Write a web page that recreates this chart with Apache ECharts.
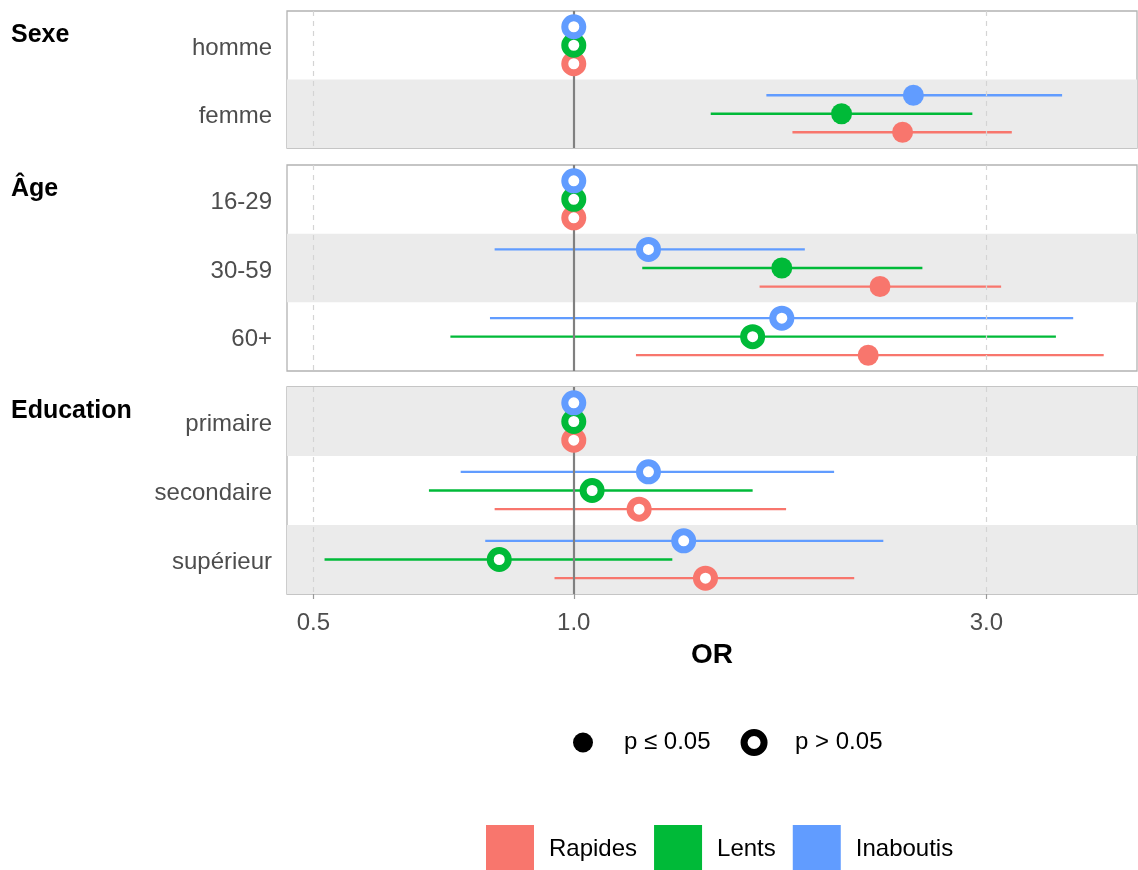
<!DOCTYPE html>
<html>
<head>
<meta charset="utf-8">
<script src="https://cdn.jsdelivr.net/npm/echarts@6/dist/echarts.min.js"></script>
<style>
html,body{margin:0;padding:0;background:#fff;}
#chart{width:1138px;height:870px;}
</style>
</head>
<body>
<div id="chart"></div>
<script>
// ---- data ----
const facets = ['Sexe', 'Âge', 'Education'];
const rowLabels = ['homme', 'femme', '16-29', '30-59', '60+', 'primaire', 'secondaire', 'supérieur'];
const rowFacet  = ['Sexe', 'Sexe', 'Âge', 'Âge', 'Âge', 'Education', 'Education', 'Education'];
const groups = ['Rapides', 'Lents', 'Inaboutis'];

const rapidesOR   = [1, 2.40, 1, 2.26, 2.19, 1, 1.19, 1.42];
const rapidesLow  = [null, 1.79, null, 1.64, 1.18, null, 0.81, 0.95];
const rapidesHigh = [null, 3.21, null, 3.12, 4.10, null, 1.76, 2.11];
const rapidesSig  = [0, 1, 0, 1, 1, 0, 0, 0];

const lentsOR   = [1, 2.04, 1, 1.74, 1.61, 1, 1.05, 0.82];
const lentsLow  = [null, 1.44, null, 1.20, 0.72, null, 0.68, 0.515];
const lentsHigh = [null, 2.89, null, 2.53, 3.61, null, 1.61, 1.30];
const lentsSig  = [0, 1, 0, 1, 0, 0, 0, 0];

const inaboutisOR   = [1, 2.47, 1, 1.22, 1.74, 1, 1.22, 1.34];
const inaboutisLow  = [null, 1.67, null, 0.81, 0.80, null, 0.74, 0.79];
const inaboutisHigh = [null, 3.67, null, 1.85, 3.78, null, 2.00, 2.28];
const inaboutisSig  = [0, 1, 0, 0, 0, 0, 0, 0];

const xTicks = [0.5, 1, 3];
const sigLabels = ['p ≤ 0.05', 'p > 0.05'];

// ---- style / layout ----
const colors = ['#F8766D', '#00BA38', '#619CFF'];
const dodge = [1, 0, -1];
const FONT = '"Liberation Sans", Arial, Helvetica, sans-serif';
const panelTop = [11, 165, 387];
const panelHeight = [137, 206, 207];
const panelLeft = 287, panelWidth = 850;
const xMin = 0.466, xMax = 4.48;

const groupData = [
  {or: rapidesOR, low: rapidesLow, high: rapidesHigh, sig: rapidesSig},
  {or: lentsOR, low: lentsLow, high: lentsHigh, sig: lentsSig},
  {or: inaboutisOR, low: inaboutisLow, high: inaboutisHigh, sig: inaboutisSig}
];

const grids = [], xAxes = [], yAxes = [], series = [], graphics = [];
let rowCounter = 0;

facets.forEach((f, fi) => {
  const idxs = rowFacet.map((v, i) => v === f ? i : -1).filter(i => i >= 0);
  const cats = idxs.map(i => rowLabels[i]);
  grids.push({left: panelLeft, top: panelTop[fi], width: panelWidth, height: panelHeight[fi],
    show: true, borderColor: '#B3B3B3', borderWidth: 1.3, backgroundColor: 'transparent', containLabel: false});
  const last = fi === facets.length - 1;
  xAxes.push({
    type: 'log', logBase: 10, gridIndex: fi, min: xMin, max: xMax,
    axisLine: {show: false},
    axisTick: {show: last, customValues: xTicks, length: 5, lineStyle: {color: '#999', width: 1.2}},
    axisLabel: {show: last, customValues: xTicks, formatter: v => Number(v).toFixed(1),
      color: '#4D4D4D', fontSize: 24, fontFamily: FONT, margin: 17},
    splitLine: {show: false},
    name: last ? 'OR' : '', nameLocation: 'middle', nameGap: 47,
    nameTextStyle: {fontSize: 28, fontWeight: 'bold', color: '#000', fontFamily: FONT}
  });
  const firstRowShaded = (rowCounter % 2) === 1;
  yAxes.push({
    type: 'category', gridIndex: fi, data: cats, inverse: true,
    axisLine: {show: false}, axisTick: {show: false},
    axisLabel: {color: '#4D4D4D', fontSize: 24, fontFamily: FONT, margin: 15,
      verticalAlign: 'top', lineHeight: 6},
    splitLine: {show: false},
    splitArea: {show: true, areaStyle: {color: firstRowShaded ? ['#EBEBEB', 'rgba(0,0,0,0)'] : ['rgba(0,0,0,0)', '#EBEBEB']}}
  });
  rowCounter += cats.length;

  graphics.push({type: 'text', x: 11, y: panelTop[fi] + 24,
    style: {text: f, font: 'bold 25px ' + FONT, fill: '#000', verticalAlign: 'middle'}});

  // error bars
  groups.forEach((g, gi) => {
    const gd = groupData[gi];
    series.push({
      type: 'custom', name: g, xAxisIndex: fi, yAxisIndex: fi, z: 2,
      itemStyle: {color: colors[gi]},
      encode: {x: 1, y: 0},
      data: idxs.map((i, k) => [k, gd.or[i], gd.low[i] == null ? NaN : gd.low[i], gd.high[i] == null ? NaN : gd.high[i], gd.sig[i]]),
      renderItem: (params, api) => {
        const lo = api.value(2), hi = api.value(3);
        if (lo == null || isNaN(lo) || hi == null || isNaN(hi)) return null;
        const k = api.value(0);
        const band = api.size([1, 1], [1, k])[1];
        const dy = dodge[gi] * band * 0.27;
        const p1 = api.coord([lo, k]), p2 = api.coord([hi, k]);
        return {type: 'line', shape: {x1: p1[0], y1: p1[1] + dy, x2: p2[0], y2: p2[1] + dy},
          style: {stroke: colors[gi], lineWidth: 2.3}};
      }
    });
  });

  // reference lines
  series.push({
    type: 'scatter', xAxisIndex: fi, yAxisIndex: fi, data: [], z: 3, silent: true,
    markLine: {silent: true, symbol: 'none', label: {show: false}, animation: false, z: 3,
      data: [
        {xAxis: 0.5, lineStyle: {color: '#D4D4D4', type: [5, 5], width: 1.2}},
        {xAxis: 3, lineStyle: {color: '#D4D4D4', type: [5, 5], width: 1.2}},
        {xAxis: 1, lineStyle: {color: '#808080', type: 'solid', width: 2.2}}
      ]}
  });
});

facets.forEach((f, fi) => {
  const idxs = rowFacet.map((v, i) => v === f ? i : -1).filter(i => i >= 0);
  groups.forEach((g, gi) => {
    const gd = groupData[gi];
    series.push({
      type: 'custom', name: g, xAxisIndex: fi, yAxisIndex: fi, z: 10,
      itemStyle: {color: colors[gi]},
      encode: {x: 1, y: 0},
      data: idxs.map((i, k) => [k, gd.or[i], gd.low[i] == null ? NaN : gd.low[i], gd.high[i] == null ? NaN : gd.high[i], gd.sig[i]]),
      renderItem: (params, api) => {
        const k = api.value(0);
        const band = api.size([1, 1], [1, k])[1];
        const dy = dodge[gi] * band * 0.27;
        const p = api.coord([api.value(1), k]);
        const sig = api.value(4) === 1;
        return sig
          ? {type: 'circle', z2: 10, shape: {cx: p[0], cy: p[1] + dy, r: 10.5}, style: {fill: colors[gi]}}
          : {type: 'circle', z2: 10, shape: {cx: p[0], cy: p[1] + dy, r: 9}, style: {fill: '#fff', stroke: colors[gi], lineWidth: 7}};
      }
    });
  });
});

// dummy series for significance legend
series.push({type: 'scatter', name: sigLabels[0], xAxisIndex: 0, yAxisIndex: 0, data: [],
  itemStyle: {color: '#000', opacity: 1}});
series.push({type: 'scatter', name: sigLabels[1], xAxisIndex: 0, yAxisIndex: 0, data: [],
  itemStyle: {color: '#fff', borderColor: '#000', borderWidth: 7, opacity: 1}});

const option = {
  animation: false,
  backgroundColor: '#fff',
  textStyle: {fontFamily: FONT},
  grid: grids, xAxis: xAxes, yAxis: yAxes, series: series,
  graphic: graphics,
  legend: [
    {
      selectedMode: false, left: 568, top: 724, orient: 'horizontal',
      itemWidth: 20, itemHeight: 20, itemGap: 30,
      textStyle: {fontSize: 24, color: '#000', fontFamily: FONT, padding: [0, 0, 0, 26]},
      data: [
        {name: sigLabels[0], icon: 'circle', itemStyle: {color: '#000', borderWidth: 0, opacity: 1}},
        {name: sigLabels[1], icon: 'circle', itemStyle: {color: '#fff', borderColor: '#000', borderWidth: 7, opacity: 1}}
      ]
    },
    {
      selectedMode: false, left: 481, top: 820, orient: 'horizontal',
      itemWidth: 48, itemHeight: 48, itemGap: 17,
      textStyle: {fontSize: 24, color: '#000', fontFamily: FONT, padding: [0, 0, 0, 10],
        verticalAlign: 'top', lineHeight: 10},
      data: groups.map((g, gi) => ({name: g, icon: 'rect', itemStyle: {color: colors[gi], borderWidth: 0}}))
    }
  ]
};

const chart = echarts.init(document.getElementById('chart'), null, {renderer: 'canvas'});
chart.setOption(option);
</script>
</body>
</html>
